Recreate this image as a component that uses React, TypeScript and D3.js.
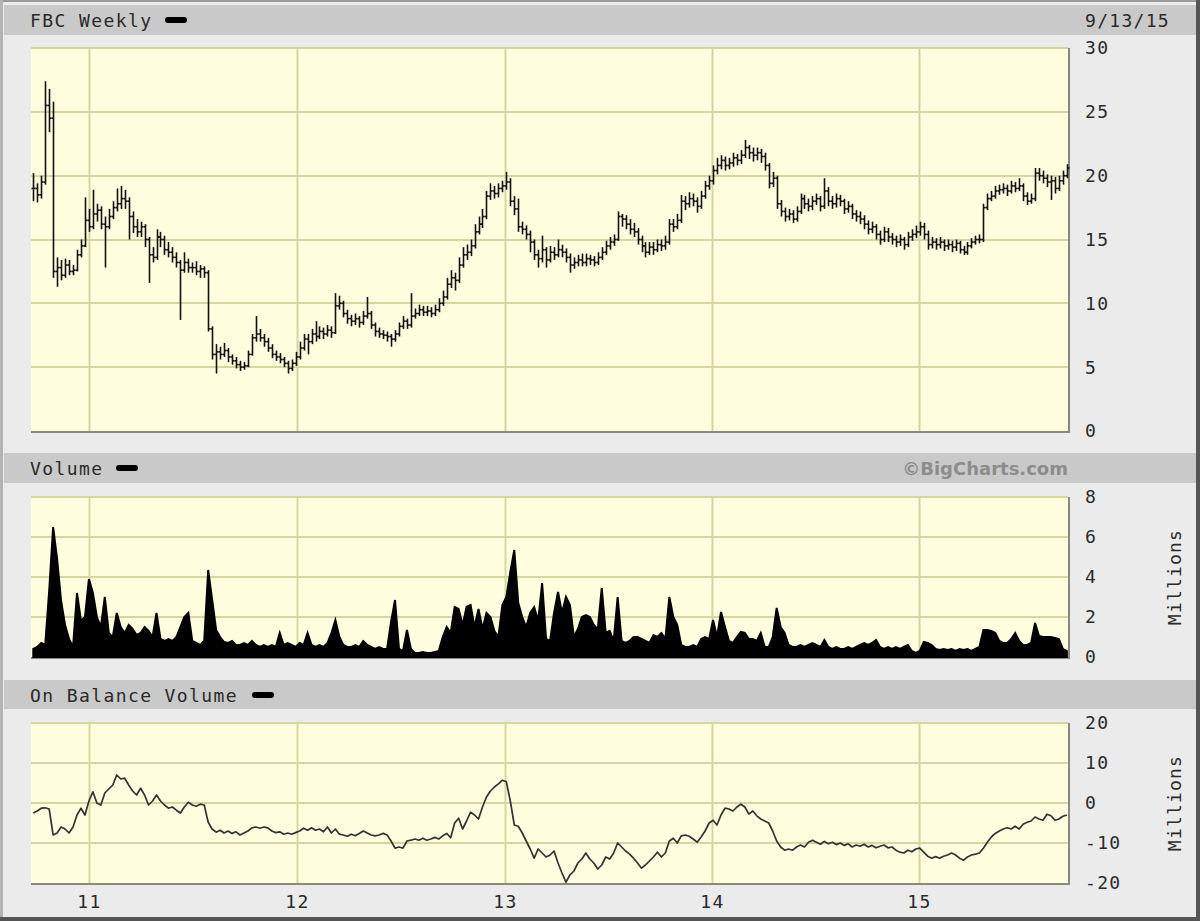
import React from "react";
import * as d3 from "d3";

// ---------- DATA (weekly, FBC) ----------
const closes = [
  19.0, 18.5, 19.5, 25.5, 24.5, 12.5, 12.8, 12.2, 13.0, 12.5,
  12.6, 13.8, 14.5, 16.5, 16.0, 17.0, 17.3, 16.2, 16.0, 16.8,
  17.5, 17.8, 18.2, 18.0, 16.8, 16.0, 15.6, 16.0, 15.0, 13.8,
  13.6, 15.2, 15.0, 14.2, 14.0, 13.6, 13.2, 12.6, 13.2, 12.8,
  12.8, 12.5, 12.7, 12.4, 8.0, 6.0, 6.2, 6.0, 6.3, 5.8,
  5.5, 5.2, 5.0, 5.1, 6.0, 7.3, 7.6, 7.3, 7.0, 6.5,
  6.0, 5.8, 5.6, 5.3, 4.9, 5.3, 5.8, 6.5, 7.2, 7.0,
  7.6, 7.4, 7.8, 7.6, 7.9, 7.7, 9.8, 10.0, 9.2, 8.8,
  8.6, 8.8, 8.5, 9.0, 9.2, 8.3, 7.8, 7.6, 7.5, 7.4,
  7.2, 7.6, 8.2, 8.6, 8.3, 9.0, 9.2, 9.5, 9.3, 9.4,
  9.2, 9.5, 10.0, 10.5, 11.5, 12.0, 11.8, 13.0, 13.8, 14.0,
  14.5, 15.6, 16.2, 16.8, 18.4, 18.8, 18.6, 19.0, 19.2, 19.5,
  18.0, 17.4, 16.0, 15.8, 15.4, 14.8, 13.8, 13.5, 14.2, 13.4,
  14.0, 13.8, 14.2, 14.0, 13.6, 13.0, 13.2, 13.4, 13.2, 13.5,
  13.4, 13.2, 13.6, 14.0, 14.5, 14.8, 15.0, 16.8, 16.6, 16.2,
  15.8, 15.6, 15.0, 14.5, 14.0, 14.4, 14.2, 14.6, 14.5, 14.8,
  16.2, 16.0, 16.5, 18.0, 17.8, 18.2, 18.0, 17.6, 18.4, 19.2,
  19.6, 20.4, 20.8, 21.2, 20.8, 21.0, 21.4, 21.2, 21.6, 22.2,
  21.8, 21.6, 21.8, 21.5, 20.8, 19.4, 19.8, 17.8, 17.2, 16.8,
  17.0, 16.6, 17.2, 18.2, 17.8, 17.6, 18.0, 18.2, 17.6, 18.8,
  18.0, 17.8, 18.2, 18.0, 17.4, 17.6, 17.0, 16.8, 16.6, 16.2,
  15.8, 16.0, 15.4, 15.0, 15.6, 15.2, 15.0, 14.8, 15.0, 14.6,
  15.2, 15.4, 15.6, 16.0, 15.4, 14.6, 14.8, 14.6, 14.8, 14.5,
  14.6, 14.4, 14.7, 14.2, 14.0, 14.5, 14.8, 15.0, 15.0, 17.5,
  18.2, 18.4, 18.8, 18.9, 19.0, 18.8, 19.2, 19.0, 19.2, 18.4,
  18.0, 18.2, 20.2, 20.0, 19.8, 19.5, 19.6, 19.0, 19.6, 20.0,
  20.6,
];

const highs = [
  20.2, 19.4, 20.0, 27.4, 26.8, 25.8, 13.6, 13.4, 13.5, 13.4,
  13.0, 14.2, 15.0, 18.3, 17.4, 18.9, 17.8, 17.6, 16.8, 17.4,
  18.0, 19.0, 19.2, 18.9, 18.3, 17.2, 16.6, 16.4, 16.2, 15.2,
  14.4, 15.8, 15.6, 15.3, 14.8, 14.4, 14.0, 13.4, 14.0, 13.5,
  13.2, 13.3, 13.0, 12.9, 12.6, 8.2, 6.8, 6.6, 6.9, 6.5,
  6.0, 5.8, 5.5, 5.4, 6.3, 7.6, 9.0, 8.0, 7.6, 7.3,
  6.8, 6.3, 6.1, 5.8, 5.5, 5.6, 6.2, 7.0, 7.6, 7.6,
  8.0, 8.6, 8.2, 8.1, 8.3, 8.2, 10.8, 10.6, 10.2, 9.5,
  9.1, 9.2, 9.0, 9.4, 10.5, 9.4, 8.5, 8.1, 7.9, 7.8,
  7.6, 7.9, 8.5, 9.0, 8.8, 10.8, 9.6, 9.9, 9.8, 9.8,
  9.7, 9.9, 10.4, 11.0, 12.0, 12.6, 12.4, 13.6, 14.4, 14.6,
  15.0, 16.2, 16.8, 17.4, 18.8, 19.4, 19.2, 19.4, 19.6, 20.3,
  19.8, 18.4, 18.2, 16.4, 16.1, 15.7, 15.0, 14.2, 15.3, 14.4,
  14.5, 14.4, 15.0, 14.6, 14.3, 13.9, 13.6, 13.8, 13.9, 13.9,
  13.8, 13.7, 14.0, 14.4, 14.9, 15.2, 15.4, 17.2, 17.0, 16.9,
  16.6, 16.3, 15.9, 15.3, 14.8, 14.8, 14.8, 15.0, 15.0, 15.3,
  16.6, 16.6, 17.0, 18.5, 18.4, 18.7, 18.6, 18.3, 18.8, 19.6,
  20.0, 20.8, 21.4, 21.6, 21.5, 21.4, 21.8, 21.7, 22.0, 22.8,
  22.4, 22.2, 22.2, 22.1, 21.8, 21.0, 20.3, 20.0, 18.1, 17.5,
  17.4, 17.3, 17.6, 18.6, 18.5, 18.2, 18.4, 18.6, 18.4, 19.8,
  19.1, 18.4, 18.6, 18.5, 18.2, 18.0, 17.8, 17.3, 17.2, 16.9,
  16.5, 16.4, 16.2, 15.7, 16.0, 15.9, 15.5, 15.3, 15.4, 15.2,
  15.6, 15.8, 16.1, 16.4, 16.3, 15.7, 15.2, 15.1, 15.2, 15.0,
  15.0, 14.9, 15.0, 14.9, 14.5, 14.8, 15.1, 15.3, 15.4, 17.8,
  18.6, 18.8, 19.2, 19.3, 19.4, 19.3, 19.6, 19.5, 19.8, 19.4,
  18.7, 18.6, 20.6, 20.6, 20.4, 20.1, 20.0, 19.9, 20.0, 20.4,
  20.9,
];

const lows = [
  18.0, 17.9, 18.2, 19.3, 23.4, 12.0, 11.3, 11.8, 12.0, 12.2,
  12.2, 12.5, 13.6, 14.4, 15.6, 15.8, 16.4, 15.8, 12.8, 15.8,
  16.6, 17.2, 17.4, 17.4, 15.0, 15.5, 15.2, 15.2, 14.4, 11.6,
  13.2, 13.4, 14.4, 13.8, 13.6, 13.2, 12.8, 8.7, 12.4, 12.4,
  12.4, 12.2, 12.0, 12.0, 7.8, 5.6, 4.5, 5.6, 5.8, 5.4,
  5.2, 4.9, 4.7, 4.8, 5.0, 5.9, 7.0, 7.0, 6.6, 6.2,
  5.7, 5.5, 5.3, 5.0, 4.5, 4.7, 5.1, 5.6, 6.3, 6.0,
  6.8, 7.0, 7.2, 7.2, 7.4, 7.3, 7.6, 9.5, 8.9, 8.4,
  8.2, 8.3, 8.1, 8.3, 8.8, 8.0, 7.4, 7.3, 7.2, 7.0,
  6.6, 7.0, 7.4, 8.0, 8.0, 8.1, 8.8, 9.0, 9.0, 9.0,
  8.9, 9.0, 9.3, 9.8, 10.3, 11.2, 11.0, 11.6, 12.8, 13.4,
  13.7, 14.3, 15.4, 15.9, 16.6, 18.1, 18.2, 18.3, 18.7, 18.9,
  17.6, 16.9, 15.6, 15.4, 15.0, 14.0, 13.4, 12.8, 13.2, 12.8,
  13.2, 13.4, 13.6, 13.6, 13.2, 12.4, 12.7, 12.9, 12.9, 12.9,
  13.0, 12.9, 13.0, 13.4, 13.8, 14.2, 14.5, 14.9, 16.0, 15.8,
  15.4, 15.2, 14.6, 14.0, 13.6, 13.8, 13.8, 14.0, 14.1, 14.2,
  14.6, 15.6, 15.8, 16.3, 17.3, 17.5, 17.6, 17.1, 17.4, 18.2,
  18.9, 19.3, 20.1, 20.5, 20.4, 20.5, 20.7, 20.8, 20.9, 21.4,
  21.3, 21.1, 21.2, 21.0, 20.4, 19.0, 19.1, 17.4, 16.8, 16.4,
  16.5, 16.3, 16.4, 17.0, 17.4, 17.2, 17.3, 17.7, 17.2, 17.4,
  17.6, 17.4, 17.5, 17.6, 17.0, 17.1, 16.6, 16.4, 16.2, 15.8,
  15.4, 15.5, 15.0, 14.6, 14.8, 14.8, 14.6, 14.4, 14.5, 14.2,
  14.4, 14.9, 15.1, 15.3, 15.0, 14.2, 14.3, 14.2, 14.3, 14.1,
  14.2, 14.0, 14.1, 13.9, 13.8, 13.8, 14.3, 14.6, 14.7, 14.8,
  17.3, 18.0, 18.2, 18.5, 18.6, 18.4, 18.6, 18.7, 18.8, 18.0,
  17.7, 17.8, 18.0, 19.6, 19.4, 19.1, 18.1, 18.6, 18.8, 19.3,
  19.8,
];

// weekly volume, millions
const volumes = [
  0.4, 0.5, 0.7, 0.6, 3.3, 6.5, 4.9, 2.8, 1.6, 0.9,
  0.5, 3.2, 1.8, 2.0, 3.9, 3.2, 2.0, 1.5, 3.0, 1.2,
  1.0, 2.2, 1.5, 1.2, 1.6, 1.4, 1.1, 1.2, 1.5, 1.3,
  1.0, 2.2, 0.9, 0.8, 0.9, 0.8, 1.0, 1.5, 2.0, 2.2,
  0.8, 0.7, 0.6, 0.8, 4.35, 2.85, 1.35, 1.0, 0.75, 0.7,
  0.8, 0.6, 0.6, 0.7, 0.6, 0.8, 0.6, 0.5, 0.6, 0.5,
  0.6, 0.5, 1.2, 0.6, 0.7, 0.6, 0.5, 0.7, 0.6, 1.2,
  0.6, 0.5, 0.6, 0.5, 0.7, 1.2, 1.85, 1.0, 0.6, 0.5,
  0.5, 0.6, 0.5, 0.8, 0.6, 0.5, 0.4, 0.5, 0.4, 0.4,
  1.75, 2.85, 0.4, 0.3, 1.35, 0.4, 0.2, 0.2, 0.25, 0.2,
  0.2, 0.25, 0.3, 1.0, 1.5, 1.2, 2.5, 2.4, 1.6, 2.5,
  2.6, 1.5, 2.4, 1.4, 2.2, 2.0, 1.3, 1.0, 2.6, 3.0,
  4.25, 5.35, 2.7, 2.0, 1.5, 2.2, 2.5, 1.8, 3.7, 0.9,
  0.8, 2.2, 3.25, 2.2, 3.0, 2.6, 1.0, 1.4, 2.0, 2.1,
  2.0, 1.6, 1.4, 3.45, 1.2, 1.3, 0.8, 3.0, 0.8, 0.7,
  0.8, 1.0, 1.0, 0.9, 0.8, 0.7, 1.1, 1.0, 1.2, 0.9,
  3.0, 2.0, 1.6, 0.6, 0.5, 0.5, 0.6, 0.5, 0.9, 1.0,
  0.9, 1.85, 1.0, 2.25, 1.5, 0.8, 0.7, 1.0, 1.25, 1.2,
  0.9, 0.9, 0.8, 1.2, 0.5, 0.5, 1.0, 2.45, 1.5, 1.2,
  0.6, 0.5, 0.5, 0.6, 0.5, 0.6, 0.7, 0.6, 0.5, 0.85,
  0.5, 0.4, 0.5, 0.4, 0.4, 0.5, 0.4, 0.5, 0.6, 0.7,
  0.6, 0.7, 0.85, 0.5, 0.4, 0.5, 0.4, 0.5, 0.4, 0.5,
  0.6, 0.3, 0.2, 0.3, 0.75, 0.7, 0.6, 0.4, 0.35, 0.4,
  0.35, 0.4, 0.3, 0.4, 0.35, 0.4, 0.3, 0.4, 0.5, 1.35,
  1.35, 1.3, 1.2, 0.8, 0.7, 0.7, 0.9, 1.2, 0.8, 0.6,
  0.6, 0.7, 1.7, 1.05, 1.0, 1.0, 1.0, 0.95, 0.9, 0.4,
  0.3,
];

// On Balance Volume, millions
const obv = [
  -2.5, -2.0, -1.3, -1.2, -1.5, -8.0, -7.5, -6.0, -6.5, -7.5,
  -6.0, -3.0, -1.3, -3.0, 0.5, 2.8, 0.0, -0.5, 2.5, 3.5,
  4.5, 7.0, 6.0, 6.2, 4.5, 3.0, 2.0, 3.7, 2.0, -0.5,
  0.5, 2.0, 0.5, -0.5, -1.3, -1.0, -1.8, -2.5, -1.0, 0.2,
  -0.5, -0.8, -0.3, -0.5, -4.8, -6.5, -7.3, -6.8, -7.5, -7.0,
  -7.6, -7.2, -8.0, -7.5, -7.0, -6.2, -6.0, -6.3, -6.0, -6.2,
  -7.0, -7.4, -7.2, -7.8, -7.5, -7.8, -7.4, -7.0, -6.3, -6.8,
  -6.2, -6.8, -6.5, -7.2, -6.0, -7.5, -6.5, -7.8, -8.0, -8.3,
  -7.8, -8.2, -7.6, -7.0, -7.5, -8.0, -8.2, -8.0, -7.6, -8.0,
  -9.5, -11.3, -11.0, -11.3, -9.5, -9.3, -9.0, -9.3, -8.8, -9.3,
  -9.0, -8.6, -9.0, -8.2, -7.6, -8.7, -5.0, -3.8, -6.5, -4.5,
  -2.3, -3.0, -4.0, -1.0, 1.5, 3.0, 4.0, 4.8, 5.7, 5.3,
  0.5, -5.5, -5.8, -7.5, -9.5, -11.5, -13.8, -11.5, -12.5, -13.5,
  -13.0, -12.0, -15.0, -17.5, -19.8, -18.0, -17.0, -15.0, -14.0, -12.5,
  -14.0, -15.0, -16.5, -15.5, -13.5, -14.0, -12.5, -10.0, -11.0, -12.0,
  -12.8, -13.8, -15.0, -16.3, -15.5, -14.5, -13.5, -12.3, -13.5, -12.5,
  -9.5, -8.8, -10.0, -8.2, -8.0, -8.3, -9.0, -9.8, -8.5, -7.0,
  -5.0, -4.3, -5.5, -3.0, -1.3, -1.5, -2.0, -1.0, -0.3, -1.0,
  -2.8, -2.0, -3.2, -4.0, -4.5, -5.0, -7.0, -9.5, -11.0, -11.8,
  -11.5, -11.8, -11.0, -10.5, -11.0, -9.8, -9.3, -9.8, -10.3, -9.6,
  -10.2, -9.8, -10.4, -10.0, -10.6, -10.2, -11.0, -10.5, -10.8, -10.3,
  -11.0, -10.6, -11.2, -10.8, -10.5, -11.2, -11.0, -11.8, -12.3, -12.5,
  -11.8, -12.2, -11.5, -11.3, -12.3, -13.3, -13.8, -13.4, -13.8, -13.3,
  -13.0, -12.5, -13.0, -13.8, -14.3, -13.5, -13.0, -12.8, -12.5, -11.3,
  -9.8, -8.5, -7.6, -7.0, -6.5, -6.2, -6.5, -5.8, -6.5, -5.3,
  -4.8, -4.5, -3.5, -4.0, -4.3, -2.8, -3.2, -4.3, -4.0, -3.3,
  -3.0,
];

const yearTicks = [2011, 2012, 2013, 2014, 2015];
const yearLabels = ["11", "12", "13", "14", "15"];
const priceTicks = [0, 5, 10, 15, 20, 25, 30];
const volumeTicks = [0, 2, 4, 6, 8];
const obvTicks = [-20, -10, 0, 10, 20];

const FIRST_WEEK = new Date(2010, 8, 24);

// ---------- LAYOUT ----------
const W = 1200;
const H = 921;
const PL = 31;
const PR = 1068;
const price = { top: 48, bottom: 431 };
const vol = { top: 497, bottom: 657 };
const obvP = { top: 723, bottom: 883 };

const BG = "#ebebeb";
const BAR = "#c9c9c9";
const PLOT = "#ffffe0";
const GRID = "#d6d6a0";
const TXT = "#2a2a2a";
const MONO = "'DejaVu Sans Mono', 'Liberation Mono', monospace";

const dates = closes.map((_, i) => d3.timeDay.offset(FIRST_WEEK, 7 * i));

const x = d3
  .scaleTime()
  .domain([new Date(2010, 8, 20), new Date(2015, 8, 20)])
  .range([PL, PR]);

const yPrice = d3.scaleLinear().domain([0, 30]).range([price.bottom, price.top]);
const yVol = d3.scaleLinear().domain([0, 8]).range([vol.bottom, vol.top]);
const yObv = d3.scaleLinear().domain([-20, 20]).range([obvP.bottom, obvP.top]);

const yearX = yearTicks.map((y) => Math.round(x(new Date(y, 0, 1))) + 0.5);

function Panel({ top, bottom, ticks, scale, fmt }: any) {
  return (
    <g>
      <rect x={PL} y={top} width={PR - PL} height={bottom - top} fill={PLOT} />
      {ticks.map((t: number) => {
        const yy = Math.round(scale(t));
        if (yy >= bottom - 1) return null;
        return <line key={"h" + t} x1={PL} x2={PR} y1={yy} y2={yy} stroke={GRID} strokeWidth={2} />;
      })}
      {yearX.map((xx, i) => (
        <line key={"v" + i} x1={xx} x2={xx} y1={top} y2={bottom} stroke={GRID} strokeWidth={2} />
      ))}
      <line x1={PL} x2={PR + 2} y1={bottom + 1} y2={bottom + 1} stroke="#8a8a7a" strokeWidth={2} />
      <line x1={PR + 1} x2={PR + 1} y1={top} y2={bottom + 2} stroke="#8a8a7a" strokeWidth={2} />
      {ticks.map((t: number) => (
        <text
          key={"l" + t}
          x={1085}
          y={scale(t)}
          dy="0.36em"
          fontFamily={MONO}
          fontSize={18}
          letterSpacing={1.3}
          fill={TXT}
        >
          {fmt(t)}
        </text>
      ))}
    </g>
  );
}

function HeaderBar({ y, h, label, dashX }: any) {
  return (
    <g>
      <rect x={4} y={y} width={1192} height={h} fill={BAR} />
      <text x={30} y={y + 22} fontFamily={MONO} fontSize={18} letterSpacing={1.4} fill={TXT}>
        {label}
      </text>
      <rect x={dashX} y={y + 12} width={22} height={6} rx={3} fill="#000" />
    </g>
  );
}

export default function App() {
  const volArea = d3
    .area<number>()
    .x((_, i) => x(dates[i]))
    .y0(yVol(0))
    .y1((d) => yVol(d))
    .curve(d3.curveLinear);

  const obvLine = d3
    .line<number>()
    .x((_, i) => x(dates[i]))
    .y((d) => yObv(d));

  return (
    <div style={{ position: "absolute", left: 0, top: 0 }}>
      <svg width={W} height={H} style={{ display: "block" }}>
        <rect x={0} y={0} width={W} height={H} fill={BG} />
        <rect x={0} y={0} width={W} height={2} fill="#9a9a9a" />
        <rect x={0} y={0} width={3} height={H} fill="#b4b4b4" />
        <rect x={1196} y={0} width={4} height={H} fill="#555" />
        <rect x={0} y={917} width={W} height={4} fill="#555" />

        {/* headers */}
        <HeaderBar y={5} h={30} label="FBC Weekly" dashX={165} />
        <text x={1085} y={27} fontFamily={MONO} fontSize={18} letterSpacing={1.3} fill={TXT}>
          9/13/15
        </text>
        <HeaderBar y={453} h={30} label="Volume" dashX={116} />
        <text
          x={1068}
          y={475}
          textAnchor="end"
          fontFamily="'DejaVu Sans', Verdana, sans-serif"
          fontWeight="bold"
          fontSize={18}
          fill="#8c8c8c"
        >
          ©BigCharts.com
        </text>
        <HeaderBar y={680} h={29} label="On Balance Volume" dashX={252} />

        {/* price panel */}
        <Panel top={price.top} bottom={price.bottom} ticks={priceTicks} scale={yPrice} fmt={(t: number) => String(t)} />
        <g stroke="#111" strokeWidth={1.6} fill="none">
          {closes.map((c, i) => {
            const xx = Math.round(x(dates[i])) + 0.5;
            const o = i > 0 ? closes[i - 1] : c;
            return (
              <g key={i}>
                <line x1={xx} x2={xx} y1={yPrice(highs[i])} y2={yPrice(lows[i])} />
                <line x1={xx - 2} x2={xx} y1={yPrice(o)} y2={yPrice(o)} />
                <line x1={xx} x2={xx + 2} y1={yPrice(c)} y2={yPrice(c)} />
              </g>
            );
          })}
        </g>

        {/* volume panel */}
        <Panel top={vol.top} bottom={vol.bottom} ticks={volumeTicks} scale={yVol} fmt={(t: number) => String(t)} />
        <path
          d={volArea(volumes) || ""}
          fill="#000"
          stroke="#000"
          strokeWidth={2}
          strokeLinejoin="miter"
        />
        <text
          transform={`translate(1181, ${(vol.top + vol.bottom) / 2}) rotate(-90)`}
          textAnchor="middle"
          fontFamily={MONO}
          fontSize={18}
          letterSpacing={1.2}
          fill={TXT}
        >
          Millions
        </text>

        {/* OBV panel */}
        <Panel top={obvP.top} bottom={obvP.bottom} ticks={obvTicks} scale={yObv} fmt={(t: number) => String(t)} />
        <path d={obvLine(obv) || ""} fill="none" stroke="#333" strokeWidth={1.7} strokeLinejoin="round" />
        <text
          transform={`translate(1181, ${(obvP.top + obvP.bottom) / 2}) rotate(-90)`}
          textAnchor="middle"
          fontFamily={MONO}
          fontSize={18}
          letterSpacing={1.2}
          fill={TXT}
        >
          Millions
        </text>

        {/* x axis labels */}
        {yearX.map((xx, i) => (
          <text
            key={i}
            x={xx}
            y={908}
            textAnchor="middle"
            fontFamily={MONO}
            fontSize={18}
            letterSpacing={1.3}
            fill={TXT}
          >
            {yearLabels[i]}
          </text>
        ))}
      </svg>
    </div>
  );
}
